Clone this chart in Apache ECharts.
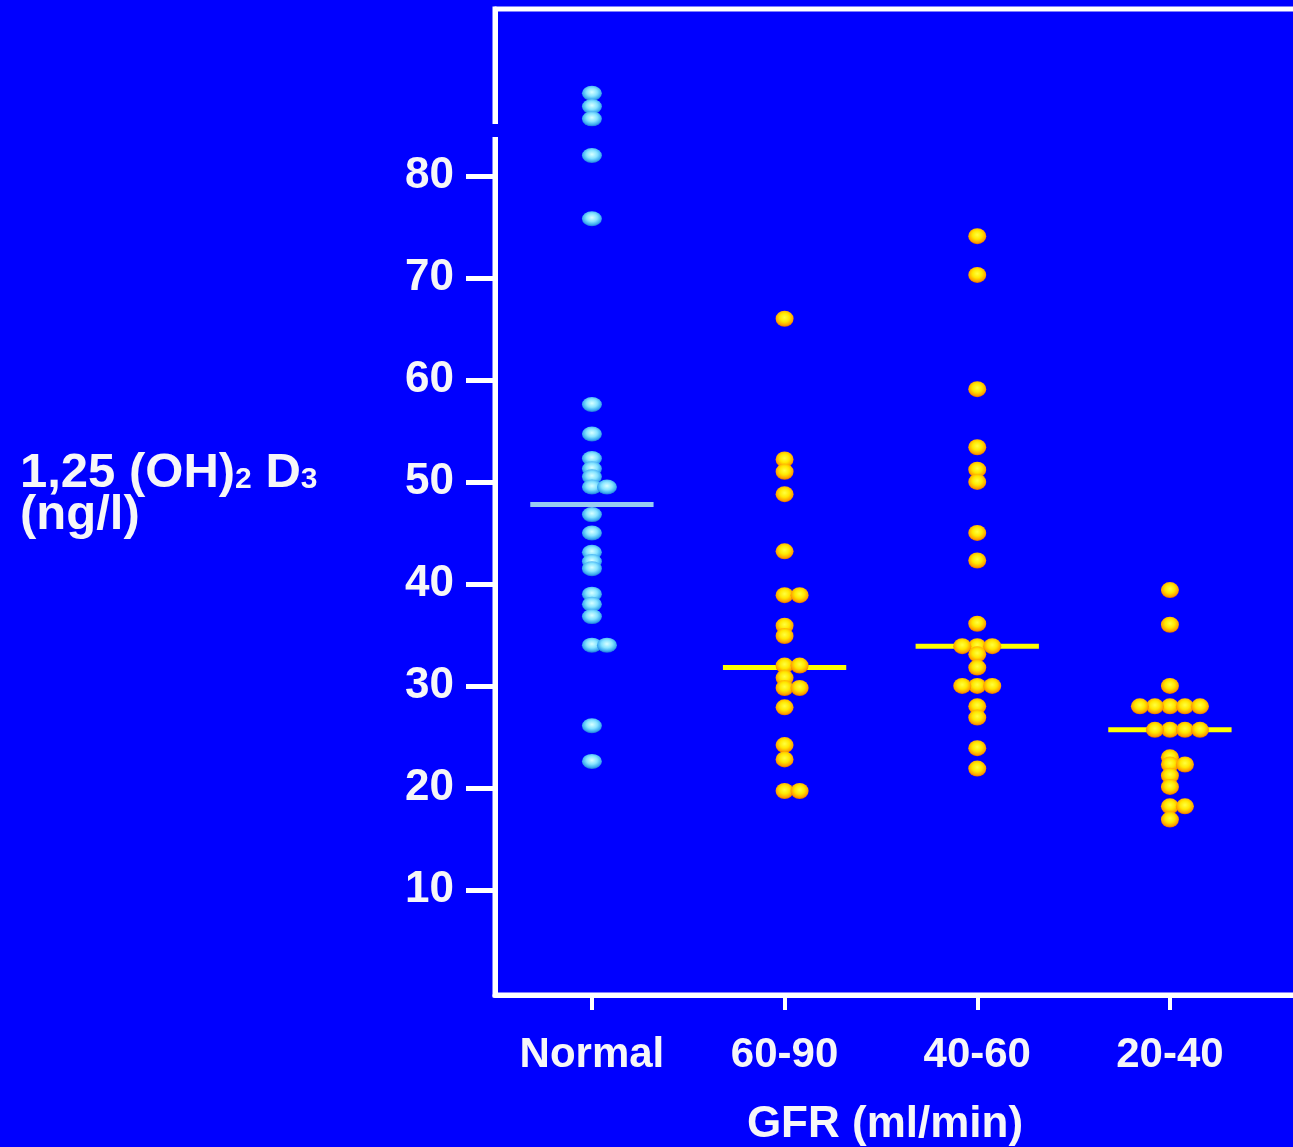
<!DOCTYPE html>
<html><head><meta charset="utf-8">
<script src="https://cdn.jsdelivr.net/npm/echarts@6/dist/echarts.min.js"></script>
<style>html,body{margin:0;padding:0;background:#0000ff;}#c{width:1293px;height:1147px;}</style>
</head><body><div id="c"></div>
<script>
// ---- data ----
const categories = ['Normal', '60-90', '40-60', '20-40'];
const normalValues = [88.1, 86.8, 85.6, 82.0, 75.8, 57.6, 54.7, 52.3, 51.3, 50.5, 49.5, 49.5, 46.8, 45.0, 43.1, 42.2, 41.5, 39.0, 38.0, 36.8, 34.0, 34.0, 26.1, 22.6];
const gfr6090Values = [66.0, 52.2, 51.0, 48.8, 43.2, 38.9, 38.9, 35.9, 34.9, 32.0, 32.0, 30.8, 29.8, 29.8, 27.9, 24.2, 22.8, 19.7, 19.7];
const gfr4060Values = [74.1, 70.3, 59.1, 53.4, 51.2, 50.0, 45.0, 42.3, 36.1, 33.9, 33.9, 33.9, 33.1, 31.8, 30.0, 30.0, 30.0, 28.0, 26.9, 23.9, 21.9];
const gfr2040Values = [39.4, 36.0, 30.0, 28.0, 28.0, 28.0, 28.0, 28.0, 25.7, 25.7, 25.7, 25.7, 23.0, 22.3, 22.3, 21.2, 20.1, 18.2, 18.2, 16.9];
const meanValues = [47.8, 31.8, 33.9, 25.7];
const yTickValues = [10, 20, 30, 40, 50, 60, 70, 80];
const xTickValues = [1, 2, 3, 4];
const yTitle = '{a|1,25 (OH)}{b|2}{a| D}{b|3}\n{a|(ng/l)}';
const xTitle = 'GFR (ml/min)';

// ---- build ----
const groups = [normalValues, gfr6090Values, gfr4060Values, gfr2040Values];
const FONT = "'Liberation Sans', Arial, sans-serif";
const TXT = '#f6f6f8';
const slotOrder = [0, 1, -1, 2, -2, 3, -3];
const slotStep = 0.078;
const halfMean = 0.32;

const blueDot = {type: 'radial', x: 0.5, y: 0.42, r: 0.6, colorStops: [
  {offset: 0, color: '#d8ffff'}, {offset: 0.45, color: '#86e4ff'}, {offset: 0.8, color: '#3aa8f0'}, {offset: 1, color: '#1c60d8'}]};
const yellowDot = {type: 'radial', x: 0.5, y: 0.42, r: 0.6, colorStops: [
  {offset: 0, color: '#ffff40'}, {offset: 0.45, color: '#ffe800'}, {offset: 0.8, color: '#ffa000'}, {offset: 1, color: '#d86000'}]};

const series = [];
groups.forEach((vals, gi) => {
  const counts = {};
  const data = vals.map(v => {
    const k = v.toFixed(2);
    const n = counts[k] || 0;
    counts[k] = n + 1;
    return [gi + 1 + slotOrder[n] * slotStep, v];
  });
  const m = meanValues[gi];
  series.push({
    type: 'line', z: 1, silent: true, symbol: 'none', animation: false,
    data: [[gi + 1 - halfMean, m], [gi + 1 + halfMean, m]],
    lineStyle: {color: gi === 0 ? '#98ccf2' : '#ffff00', width: 5, cap: 'butt'}
  });
  series.push({
    type: 'scatter', z: 3, animation: false, silent: true,
    symbol: 'circle', symbolSize: gi === 0 ? [20, 15] : [18, 16],
    itemStyle: {color: gi === 0 ? blueDot : yellowDot, opacity: 1},
    data: data
  });
});

const chart = echarts.init(document.getElementById('c'), null, {renderer: 'canvas'});
chart.setOption({
  backgroundColor: '#0000ff',
  animation: false,
  grid: {left: 495, top: 9, width: 820, height: 986, show: true, borderColor: '#ffffff', borderWidth: 5,
         backgroundColor: 'transparent', containLabel: false, outerBoundsMode: 'none'},
  xAxis: {
    type: 'value', min: 0.497, max: 4.753,
    axisLine: {show: true, onZero: false, lineStyle: {color: '#ffffff', width: 5}},
    axisTick: {show: true, customValues: xTickValues, length: 15, lineStyle: {color: '#ffffff', width: 4}},
    axisLabel: {customValues: xTickValues, formatter: v => categories[Math.round(v) - 1], color: TXT, fontFamily: FONT, fontWeight: 'bold', fontSize: 42, margin: 39},
    splitLine: {show: false},
    name: xTitle, nameLocation: 'middle', nameGap: 108,
    nameTextStyle: {color: TXT, fontFamily: FONT, fontWeight: 'bold', fontSize: 44, padding: [0, 40, 0, 0]}
  },
  yAxis: {
    type: 'value', min: -0.3, max: 96.37,
    axisLine: {show: true, onZero: false, lineStyle: {color: '#ffffff', width: 5}},
    axisTick: {show: true, customValues: yTickValues, length: 29, lineStyle: {color: '#ffffff', width: 5}},
    axisLabel: {customValues: yTickValues, color: TXT, fontFamily: FONT, fontWeight: 'bold', fontSize: 44, margin: 41},
    splitLine: {show: false}
  },
  graphic: [
    {type: 'rect', z: 100, shape: {x: 486, y: 124, width: 18, height: 13}, style: {fill: '#0000ff'}},
    {type: 'text', z: 100, left: 20, top: 449, style: {
      text: yTitle,
      rich: {
        a: {fontSize: 49, fontWeight: 'bold', fontFamily: FONT, fill: TXT, lineHeight: 42},
        b: {fontSize: 30, fontWeight: 'bold', fontFamily: FONT, fill: TXT, lineHeight: 26, verticalAlign: 'bottom'}
      }
    }}
  ],
  series: series
});
</script></body></html>
